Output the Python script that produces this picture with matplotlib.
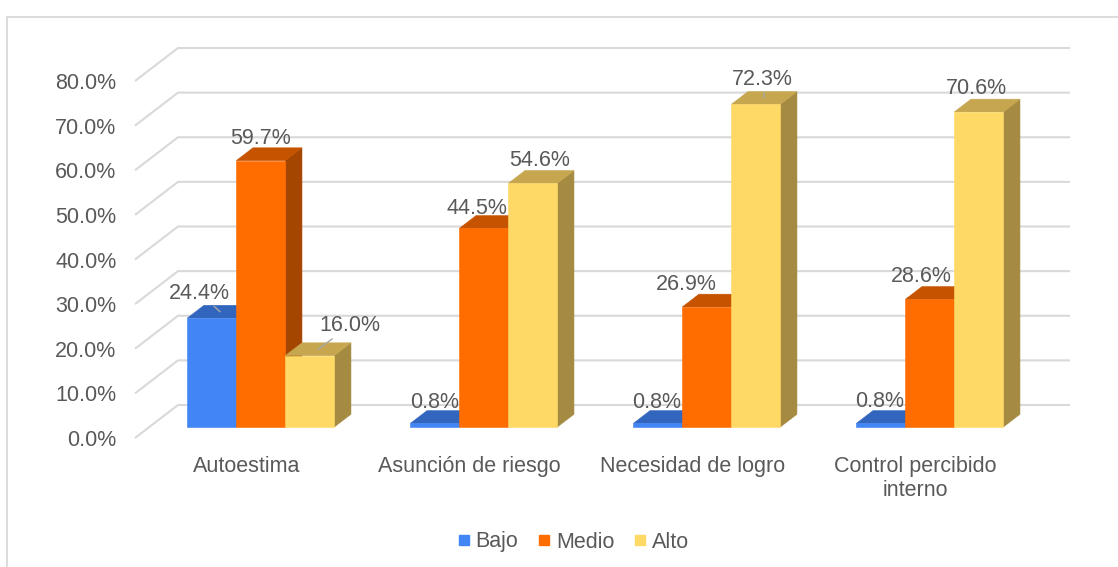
import matplotlib
matplotlib.use('Agg')
import matplotlib.pyplot as plt
from matplotlib.patches import Polygon
from matplotlib.lines import Line2D

# ---------------- data ----------------
categories = ['Autoestima', 'Asunción de riesgo', 'Necesidad de logro',
              'Control percibido\ninterno']
series_names = ['Bajo', 'Medio', 'Alto']
bajo = [24.4, 0.8, 0.8, 0.8]
medio = [59.7, 44.5, 26.9, 28.6]
alto = [16.0, 54.6, 72.3, 70.6]
yticks = [0, 10, 20, 30, 40, 50, 60, 70, 80]
ytick_labels = ['0.0%', '10.0%', '20.0%', '30.0%', '40.0%', '50.0%',
                '60.0%', '70.0%', '80.0%']

# ---------------- style / layout ----------------
front_colors = ['#4285F4', '#FF6D01', '#FFD966']
top_colors = ['#3266BE', '#C55300', '#C6A64F']
side_colors = ['#2C58A6', '#A54600', '#A58B42']
text_color = '#595959'
grid_color = '#D9D9D9'
FS = 15.5

# label offsets (screen px, x right / y down) from front-top centre of each bar
label_offsets = [
    [(-12.5, -27), (0, -24), (40.5, -32)],
    [(-0.5, -23), (-7, -22), (7, -25)],
    [(-1.5, -23), (-21, -24), (6.5, -27)],
    [(-1.5, -24), (-8.5, -25), (-2, -25)],
]
leaders = [
    [True, False, True],
    [False, False, False],
    [False, False, True],
    [False, False, False],
]

plt.rcParams['font.family'] = ['Liberation Sans', 'DejaVu Sans']

W_PX, H_PX = 1118, 567
fig = plt.figure(figsize=(W_PX / 100, H_PX / 100), dpi=100)
fig.patch.set_facecolor('white')

# outer frame (left and top edges visible)
fig.add_artist(Line2D([7 / W_PX, 7 / W_PX], [0, 1 - 17 / H_PX],
                      color=grid_color, lw=1.3, transform=fig.transFigure))
fig.add_artist(Line2D([7 / W_PX, 1], [1 - 17 / H_PX, 1 - 17 / H_PX],
                      color=grid_color, lw=1.3, transform=fig.transFigure))

# axes geometry
ax_left, ax_right, ax_bottom, ax_top = 135, 1070, 438, 48
ax = fig.add_axes([ax_left / W_PX, (H_PX - ax_bottom) / H_PX,
                   (ax_right - ax_left) / W_PX, (ax_bottom - ax_top) / H_PX])
ax.set_facecolor('none')

ncat = len(categories)
px_per_x = 223.0
DX = 43 / px_per_x                       # full depth shift in x data units
px_per_y = 4.4625
DY = 33 / px_per_y                       # full depth shift in y data units
ax.set_xlim(0, ncat + DX)
ax.set_ylim(0, 80 + DY)

# gridlines (floor diagonal + back wall)
for v in yticks:
    ax.plot([0, DX, ncat + DX], [v, v + DY, v + DY], color=grid_color,
            lw=1.5, zorder=1, clip_on=False, solid_capstyle='butt')

# bars
a, b = 0.333, 0.72
bdx, bdy = (b - a) * DX, (b - a) * DY
bdx_px, bdy_px = (b - a) * 43, (b - a) * 33
W = 49 / px_per_x
values = [bajo, medio, alto]
k = 0
for i in range(ncat):
    for j in range(3):
        v = values[j][i]
        xl = i + 0.5 - 1.5 * W + j * W + a * DX
        yb = a * DY
        yt = v + a * DY
        z = 2 + k * 0.01
        k += 1
        side = Polygon([(xl + W, yb), (xl + W, yt), (xl + W + bdx, yt + bdy),
                        (xl + W + bdx, yb + bdy)], closed=True,
                       facecolor=side_colors[j], edgecolor=side_colors[j],
                       lw=0.4, zorder=z)
        top = Polygon([(xl, yt), (xl + W, yt), (xl + W + bdx, yt + bdy),
                       (xl + bdx, yt + bdy)], closed=True,
                      facecolor=top_colors[j], edgecolor=top_colors[j],
                      lw=0.4, zorder=z + 0.001)
        ax.add_patch(side)
        ax.add_patch(top)
        ax.bar(xl, v, width=W, bottom=yb, align='edge', color=front_colors[j],
               edgecolor=front_colors[j], lw=0.4, zorder=z + 0.002)

        # data label
        dx, dy = label_offsets[i][j]
        xy = (xl + W / 2 + bdx / 2, yt + bdy / 2)
        off = (dx - bdx_px / 2, -(dy + 7.5 + bdy_px / 2))
        kw = {}
        if leaders[i][j]:
            kw['arrowprops'] = dict(arrowstyle='-', color='#A6A6A6', lw=1.0,
                                    shrinkA=0, shrinkB=0)
        ax.annotate(f'{v:.1f}%', xy=xy, xytext=off, textcoords='offset pixels',
                    ha='center', va='baseline', fontsize=FS, color=text_color,
                    zorder=10, annotation_clip=False, **kw)

# axes ticks
ax.set_yticks(yticks)
ax.set_yticklabels(ytick_labels)
ax.set_xticks([i + 0.5 for i in range(ncat)])
ax.set_xticklabels(categories)
ax.tick_params(axis='y', length=0, pad=13.5, labelsize=FS, labelcolor=text_color)
ax.tick_params(axis='x', length=0, pad=13, labelsize=FS, labelcolor=text_color)
for s in ax.spines.values():
    s.set_visible(False)

# legend
handles = [Line2D([], [], marker='s', ls='', color=c, markersize=6.5)
           for c in front_colors]
fig.legend(handles, series_names, loc='center',
           bbox_to_anchor=(573 / W_PX, 1 - 542 / H_PX), ncol=3, frameon=False,
           fontsize=FS, labelcolor=text_color, handlelength=0.6,
           handletextpad=0.25, columnspacing=0.9, borderpad=0)

fig.savefig('out.png', dpi=100, facecolor='white')
